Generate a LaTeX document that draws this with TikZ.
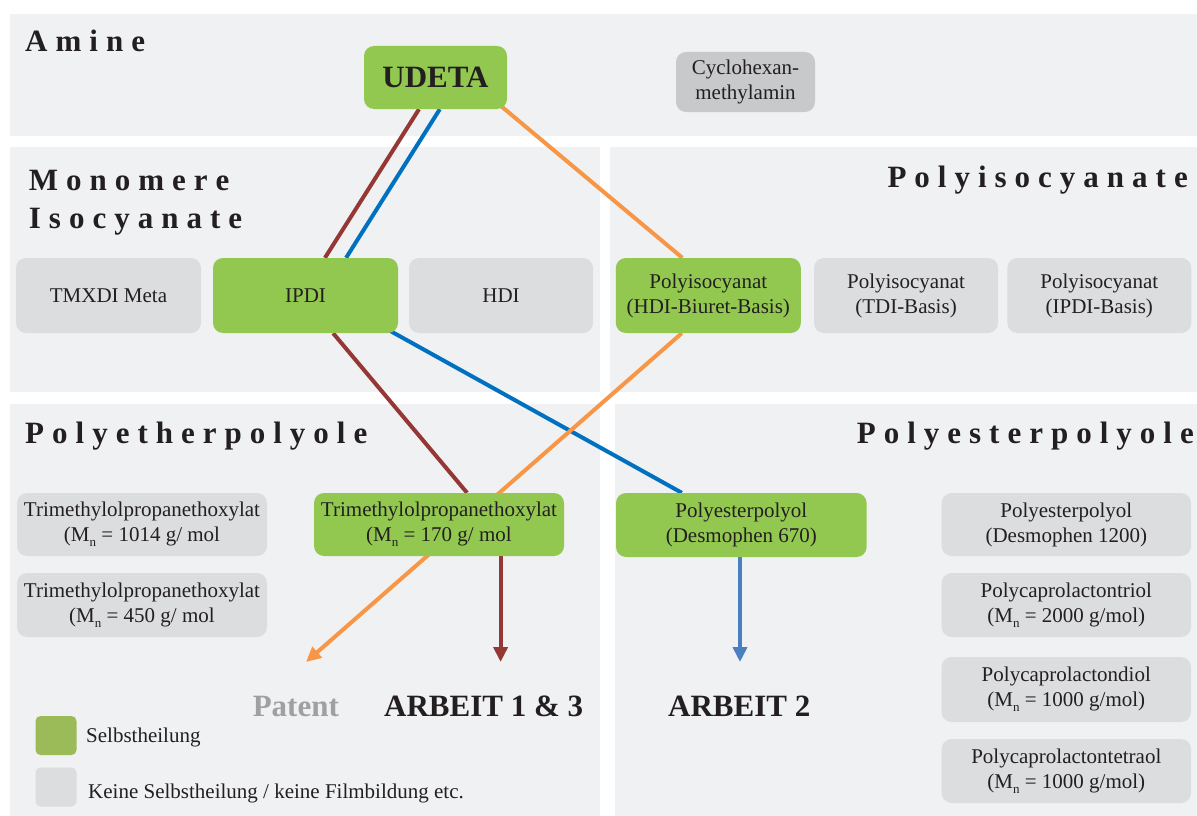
\documentclass[tikz,border=0pt]{standalone}
\usepackage{fontspec}
\setmainfont{Liberation Serif}
\usetikzlibrary{calc,arrows.meta}
\pgfdeclarelayer{bg}
\pgfdeclarelayer{lines}
\pgfsetlayers{bg,lines,main}
\definecolor{panelc}{RGB}{240,241,243}
\definecolor{grayc}{RGB}{220,221,223}
\definecolor{cycc}{RGB}{200,201,203}
\definecolor{greenc}{RGB}{146,200,80}
\definecolor{leggreen}{RGB}{155,187,89}
\definecolor{brownc}{RGB}{149,55,53}
\definecolor{blueA}{RGB}{0,112,192}
\definecolor{blueB}{RGB}{74,128,192}
\definecolor{orangec}{RGB}{247,150,70}
\definecolor{txt}{RGB}{35,31,32}
\definecolor{patentc}{RGB}{160,160,160}
\makeatletter
\newcommand\lsp[1]{\@tfor\lsp@c:=#1\do{\lsp@c\kern8pt}\unkern}
\makeatother
\newcommand\subn{\raisebox{-0.22em}{\fontsize{13}{13}\selectfont n}}
\begin{document}
\begin{tikzpicture}[x=1pt,y=-1pt,
  font=\fontsize{21}{25}\selectfont, text=txt,
  gbox/.style={rounded corners=10pt, fill=greenc, inner sep=0pt, align=center},
  xbox/.style={rounded corners=10pt, fill=grayc, inner sep=0pt, align=center},
  hdr/.style={inner sep=0pt, font=\fontsize{31}{31}\selectfont\bfseries},
  conn/.style={line width=4pt},
  tip/.style={-{Triangle[length=15pt,width=14pt]}}]
\useasboundingbox (0,0) rectangle (1197,816);
\begin{pgfonlayer}{bg}
  \fill[white] (0,0) rectangle (1197,816);
  \fill[panelc] (9.6,14) rectangle (1197,136);
  \fill[panelc] (9.6,147) rectangle (600,392);
  \fill[panelc] (610,147) rectangle (1197,392);
  \fill[panelc] (9.6,404) rectangle (600,816);
  \fill[panelc] (615,404) rectangle (1197,816);
\end{pgfonlayer}
% headers
\node[hdr, anchor=base west] (hAmine) at (25,52) {\lsp{Amine}};
\node[hdr, anchor=base west] (hMono) at (28.7,190) {\lsp{Monomere}};
\node[hdr, anchor=base west] (hIso) at (28.7,228) {\lsp{Isocyanate}};
\node[hdr, anchor=base east] (hPoly) at (1188,187) {\lsp{Polyisocyanate}};
\node[hdr, anchor=base west] (hEther) at (25,443) {\lsp{Polyetherpolyole}};
\node[hdr, anchor=base east] (hEster) at (1194,443) {\lsp{Polyesterpolyole}};
% boxes
\node[gbox, minimum width=143pt, minimum height=63pt, font=\fontsize{31}{31}\selectfont\bfseries] (udeta) at (435.5,77.5) {UDETA};
\node[xbox, fill=cycc, minimum width=139pt, minimum height=60pt] (cyc) at (745.5,82) {Cyclohexan-\\methylamin};
\node[xbox, minimum width=185pt, minimum height=75pt] (tmxdi) at (108.5,295.5) {TMXDI Meta};
\node[gbox, minimum width=185pt, minimum height=75pt] (ipdi) at (305.5,295.5) {IPDI};
\node[xbox, minimum width=184pt, minimum height=75pt] (hdi) at (501,295.5) {HDI};
\node[gbox, minimum width=185pt, minimum height=75pt] (phdi) at (708.3,295.5) {Polyisocyanat\\(HDI-Biuret-Basis)};
\node[xbox, minimum width=184pt, minimum height=75pt] (ptdi) at (906,295.5) {Polyisocyanat\\(TDI-Basis)};
\node[xbox, minimum width=184pt, minimum height=75pt] (pipdi) at (1099.3,295.5) {Polyisocyanat\\(IPDI-Basis)};
\node[xbox, minimum width=250pt, minimum height=63pt] (t1014) at (142,524.5) {Trimethylolpropanethoxylat\\(M\subn{} = 1014 g/ mol};
\node[xbox, minimum width=250pt, minimum height=64pt] (t450) at (142,605) {Trimethylolpropanethoxylat\\(M\subn{} = 450 g/ mol};
\node[gbox, minimum width=250pt, minimum height=63pt] (t170) at (439,524.5) {Trimethylolpropanethoxylat\\(M\subn{} = 170 g/ mol};
\node[gbox, minimum width=250.6pt, minimum height=64pt] (d670) at (741.3,525) {Polyesterpolyol\\(Desmophen 670)};
\node[xbox, minimum width=249.4pt, minimum height=63pt] (d1200) at (1066.3,524.5) {Polyesterpolyol\\(Desmophen 1200)};
\node[xbox, minimum width=249.4pt, minimum height=64pt] (pctri) at (1066.3,605) {Polycaprolactontriol\\(M\subn{} = 2000 g/mol)};
\node[xbox, minimum width=249.4pt, minimum height=65pt] (pcdi) at (1066.3,689.5) {Polycaprolactondiol\\(M\subn{} = 1000 g/mol)};
\node[xbox, minimum width=249.4pt, minimum height=64pt] (pctetra) at (1066.3,771) {Polycaprolactontetraol\\(M\subn{} = 1000 g/mol)};
% result labels
\node[hdr, anchor=base west, text=patentc] (patent) at (252.6,716) {Patent};
\node[hdr, anchor=base west] (arb13) at (384,716) {ARBEIT 1 \& 3};
\node[hdr, anchor=base west] (arb2) at (668,716) {ARBEIT 2};
% legend
\node[rounded corners=5pt, fill=leggreen, minimum width=41pt, minimum height=39pt, inner sep=0pt] (lg) at (56,735.5) {};
\node[rounded corners=5pt, fill=grayc, minimum width=41pt, minimum height=39pt, inner sep=0pt] (lx) at (56,787) {};
\node[inner sep=0pt, anchor=base west] (lgt) at (86,742) {Selbstheilung};
\node[inner sep=0pt, anchor=base west] (lxt) at (88,798) {Keine Selbstheilung / keine Filmbildung etc.};
% arrow tips
\coordinate (patentTip) at (306,662);
\coordinate (a13Tip) at (500.6,662);
\coordinate (a2Tip) at (740,662);
\begin{pgfonlayer}{lines}
  \draw[conn, brownc] ($(udeta.south west)!0.385!(udeta.south east)$) -- ($(ipdi.north west)!0.605!(ipdi.north east)$);
  \draw[conn, blueA] ($(udeta.south west)!0.53!(udeta.south east)$) -- ($(ipdi.north west)!0.719!(ipdi.north east)$);
  \draw[conn, orangec] ($(udeta.south east)+(-6,-3)$) -- ($(phdi.north west)!0.36!(phdi.north east)$);
  \draw[conn, brownc] ($(ipdi.south west)!0.649!(ipdi.south east)$) -- ($(t170.north west)!0.612!(t170.north east)$);
  \draw[conn, blueA] ($(ipdi.south west)!0.95!(ipdi.south east)+(0,-3)$) -- ($(d670.north west)!0.263!(d670.north east)$);
  \draw[conn, orangec, tip] ($(phdi.south west)!0.357!(phdi.south east)$) -- (patentTip);
  \draw[conn, brownc, tip] (a13Tip |- t170.south) -- (a13Tip);
  \draw[conn, blueB, tip] (a2Tip |- d670.south) -- (a2Tip);
\end{pgfonlayer}
\end{tikzpicture}
\end{document}
